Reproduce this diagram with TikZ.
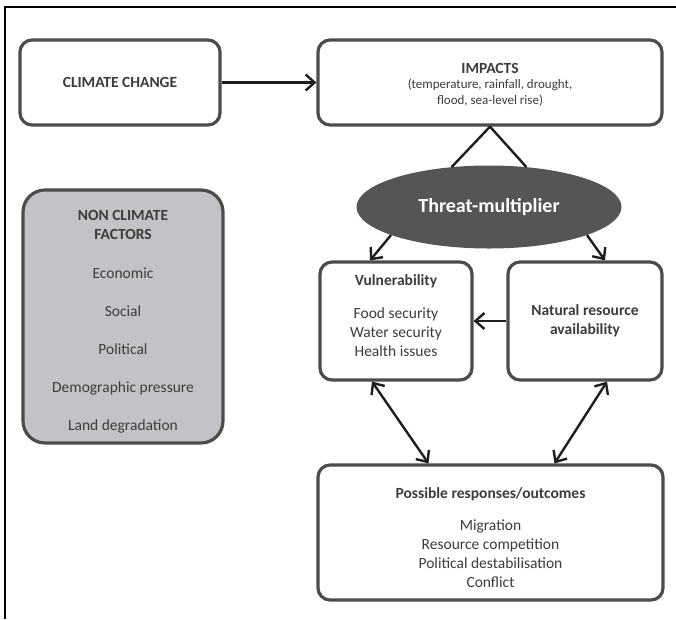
\documentclass[tikz,border=0pt]{standalone}
\usepackage{fontspec}
\setmainfont{Carlito}
\usetikzlibrary{shapes.geometric,arrows.meta}
\definecolor{boxline}{HTML}{4C4C4C}
\definecolor{txt}{HTML}{3C3C3C}
\definecolor{ncfill}{HTML}{C3C3C7}
\definecolor{ellfill}{HTML}{555555}
\definecolor{arr}{HTML}{1E1E1E}
\tikzset{
  box/.style={draw=boxline, line width=3.2pt, rounded corners=12pt, fill=white,
    text=txt, align=center, inner sep=0pt,
    font=\fontsize{15.5}{19}\selectfont},
  conn/.style={draw=arr, line width=2.4pt, -{Straight Barb[length=9pt,width=16pt]}},
  dconn/.style={draw=arr, line width=2.4pt, {Straight Barb[length=9pt,width=16pt]}-{Straight Barb[length=9pt,width=16pt]}},
  plain/.style={draw=arr, line width=2.4pt}
}
\begin{document}
\begin{tikzpicture}[x=1pt,y=-1pt]
\useasboundingbox (0,0) rectangle (676,619);
\draw[line width=1.3pt, black] (5,619) -- (5,7) -- (676,7);

\node[box, minimum width=200pt, minimum height=85pt] (cc) at (120,82.5) {\bfseries CLIMATE CHANGE};
\node[box, minimum width=344pt, minimum height=85pt, font=\fontsize{13}{16}\selectfont] (imp) at (490,82.5)
  {\fontsize{15.5}{19}\selectfont\bfseries\rule{0pt}{15pt}IMPACTS\\[-1pt] (temperature, rainfall, drought,\\ flood, sea-level rise)};
\node[box, fill=ncfill, rounded corners=22pt, minimum width=200pt, minimum height=253pt] (ncf) at (123,316.5)
  {\bfseries\rule{0pt}{20pt}NON CLIMATE\\ \bfseries FACTORS\\[20pt] Economic\\[19pt] Social\\[19pt] Political\\[19pt] Demographic pressure\\[19pt] Land degradation};
\node[ellipse, fill=ellfill, draw=none, minimum width=265pt, minimum height=83pt, inner sep=0pt,
  text=white, font=\fontsize{20}{24}\selectfont\bfseries] (tm) at (489,207) {Threat-multiplier};
\node[box, minimum width=152pt, minimum height=118pt] (vul) at (396,321)
  {\bfseries Vulnerability\\[14pt] Food security\\ Water security\\ Health issues\rule[-10pt]{0pt}{0pt}};
\node[box, minimum width=154pt, minimum height=118pt] (nat) at (585,321)
  {\bfseries Natural resource\\ \bfseries availability};
\node[box, minimum width=345pt, minimum height=135pt] (out) at (490.5,532.5)
  {\bfseries\rule{0pt}{21.5pt}Possible responses/outcomes\\[13pt] Migration\\ Resource competition\\ Political destabilisation\\ Conflict};

\draw[conn] (cc.east) -- (imp.west);
\draw[plain] (imp.south) -- (tm.133);
\draw[plain] (imp.south) -- (tm.47);
\draw[conn] (tm.196) -- ([xshift=-26pt]vul.north);
\draw[conn] (tm.344) -- ([xshift=20pt]nat.north);
\draw[conn] (nat.west) -- (vul.east);
\draw[dconn] ([xshift=-24pt]vul.south) -- ([xshift=-62pt]out.north);
\draw[dconn] ([xshift=22pt]nat.south) -- ([xshift=64pt]out.north);
\end{tikzpicture}
\end{document}
